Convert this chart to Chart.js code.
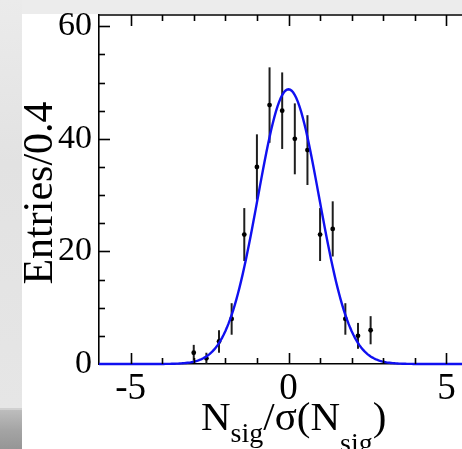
<!DOCTYPE html>
<html>
<head>
<meta charset="utf-8">
<script src="https://cdn.jsdelivr.net/npm/chart.js@4/dist/chart.umd.min.js"></script>
<style>
  html, body { margin: 0; padding: 0; width: 462px; height: 449px; overflow: hidden; background: #ececec; }
  #strip { position: absolute; left: 0; top: 0; width: 22px; height: 408px;
           background: linear-gradient(to bottom, #ebebeb 0%, #e2e2e2 40%, #e6e6e6 100%); }
  #corner { position: absolute; left: 0; top: 408px; width: 22px; height: 41px;
            border-top: 2px solid #d0d0d0;
            background: linear-gradient(to bottom, #bdbdbd 0%, #a4a4a4 50%, #949494 100%); }
  #sheet { position: absolute; left: 22px; top: 14px; width: 440px; height: 435px; background: #ffffff; }
  #plot { position: absolute; left: 0; top: 0; }
</style>
</head>
<body>
<div id="strip"></div>
<div id="corner"></div>
<div id="sheet"></div>
<canvas id="plot" width="490" height="449"></canvas>
<script>
// Pull distribution, bins of width 0.4
const binCenters   = [-3.0, -2.6, -2.2, -1.8, -1.4, -1.0, -0.6, -0.2, 0.2, 0.6, 1.0, 1.4, 1.8, 2.2, 2.6];
const entries      = [2, 1, 4, 8, 23, 35, 46, 45, 40, 38, 23, 24, 8, 5, 6];
const entryErrors  = [1.4, 1.0, 2.0, 2.8, 4.7, 5.8, 6.7, 6.8, 6.3, 6.2, 4.7, 4.9, 2.8, 2.3, 2.5];

// Axis ranges and labelled ticks
const xRange = [-6, 6];
const yRange = [0, 62];
const xTickLabels = [-5, 0, 5];
const yTickLabels = [0, 20, 40, 60];

// Gaussian fit result
const fitAmplitude = 48.8;
const fitMean = 0.0;
const fitSigma = 0.97;

const SERIF = '"Liberation Serif", "Times New Roman", serif';

const fitCurve = [];
for (let i = 0; i <= 240; i++) {
  const x = xRange[0] + (xRange[1] - xRange[0]) * i / 240;
  const z = (x - fitMean) / fitSigma;
  fitCurve.push({ x: x, y: fitAmplitude * Math.exp(-0.5 * z * z) });
}
const points = binCenters.map((x, i) => ({ x: x, y: entries[i] }));

// Error bars, inward ticks, top frame and axis titles
const decorations = {
  id: 'decorations',
  beforeDatasetsDraw(chart) {
    const { ctx, scales: { x, y } } = chart;
    ctx.save();
    ctx.strokeStyle = '#1e1e1e';
    ctx.lineWidth = 2;
    binCenters.forEach((c, i) => {
      const px = x.getPixelForValue(c);
      ctx.beginPath();
      ctx.moveTo(px, y.getPixelForValue(entries[i] - entryErrors[i]));
      ctx.lineTo(px, y.getPixelForValue(entries[i] + entryErrors[i]));
      ctx.stroke();
    });
    ctx.restore();
  },
  afterDatasetsDraw(chart) {
    const { ctx, chartArea: a, scales: { x, y } } = chart;
    ctx.save();
    ctx.strokeStyle = '#000';
    ctx.lineWidth = 1.6;
    // frame top
    ctx.beginPath();
    ctx.moveTo(a.left - 1, a.top);
    ctx.lineTo(a.right, a.top);
    ctx.stroke();
    // x ticks, bottom and top
    for (let v = xRange[0] + 1; v < xRange[1]; v++) {
      const px = Math.round(x.getPixelForValue(v)) + 0.5;
      const len = xTickLabels.includes(v) ? 11 : 6;
      ctx.beginPath();
      ctx.moveTo(px, a.bottom); ctx.lineTo(px, a.bottom - len);
      ctx.moveTo(px, a.top); ctx.lineTo(px, a.top + len);
      ctx.stroke();
    }
    // y ticks
    for (let v = 5; v <= 60; v += 5) {
      const py = Math.round(y.getPixelForValue(v)) + 0.5;
      const len = yTickLabels.includes(v) ? 11 : 6;
      ctx.beginPath();
      ctx.moveTo(a.left, py); ctx.lineTo(a.left + len, py);
      ctx.stroke();
    }
    ctx.restore();

    // axis titles
    ctx.save();
    ctx.fillStyle = '#000';
    ctx.font = '42px ' + SERIF;
    ctx.textAlign = 'center';
    ctx.textBaseline = 'alphabetic';
    ctx.translate(52, 193);
    ctx.rotate(-Math.PI / 2);
    ctx.fillText('Entries/0.4', 0, 0);
    ctx.restore();

    ctx.save();
    ctx.fillStyle = '#000';
    ctx.textBaseline = 'alphabetic';
    ctx.textAlign = 'left';
    const big = '41px ' + SERIF, small = '28px ' + SERIF;
    const parts = [
      ['N', big, 430], ['sig', small, 442], ['/σ(N', big, 430], ['sig', small, 452], [')', big, 430]
    ];
    let cx = 201;
    parts.forEach(([t, f, base]) => {
      ctx.font = f;
      ctx.fillText(t, cx, base);
      cx += ctx.measureText(t).width;
    });
    ctx.restore();
  }
};

new Chart(document.getElementById('plot'), {
  type: 'line',
  data: {
    datasets: [
      {
        data: fitCurve,
        borderColor: '#1010f0',
        borderWidth: 2.4,
        pointRadius: 0,
        tension: 0,
        clip: 3
      },
      {
        data: points,
        showLine: false,
        pointRadius: 2.4,
        pointBackgroundColor: '#000',
        pointBorderWidth: 0
      }
    ]
  },
  options: {
    responsive: false,
    animation: false,
    events: [],
    layout: { padding: { top: 15, right: 12, left: 0, bottom: 0 } },
    plugins: { legend: { display: false }, tooltip: { enabled: false } },
    scales: {
      x: {
        type: 'linear',
        min: xRange[0], max: xRange[1],
        grid: { display: false, drawTicks: false },
        border: { display: true, color: '#000', width: 1.6 },
        ticks: {
          stepSize: 5, includeBounds: false, maxRotation: 0, autoSkip: false,
          padding: 3, color: '#000',
          font: { family: SERIF, size: 37 },
          callback: v => String(v)
        },
        afterFit: s => { s.height = 85; s.paddingLeft = 0; s.paddingRight = 0; }
      },
      y: {
        type: 'linear',
        min: yRange[0], max: yRange[1],
        grid: { display: false, drawTicks: false },
        border: { display: true, color: '#000', width: 1.6 },
        ticks: {
          stepSize: 20, includeBounds: false, autoSkip: false,
          padding: 7, color: '#000',
          font: { family: SERIF, size: 34 },
          callback: v => String(v)
        },
        afterFit: s => { s.width = 99; s.paddingTop = 0; s.paddingBottom = 0; }
      }
    }
  },
  plugins: [decorations]
});
</script>
</body>
</html>
